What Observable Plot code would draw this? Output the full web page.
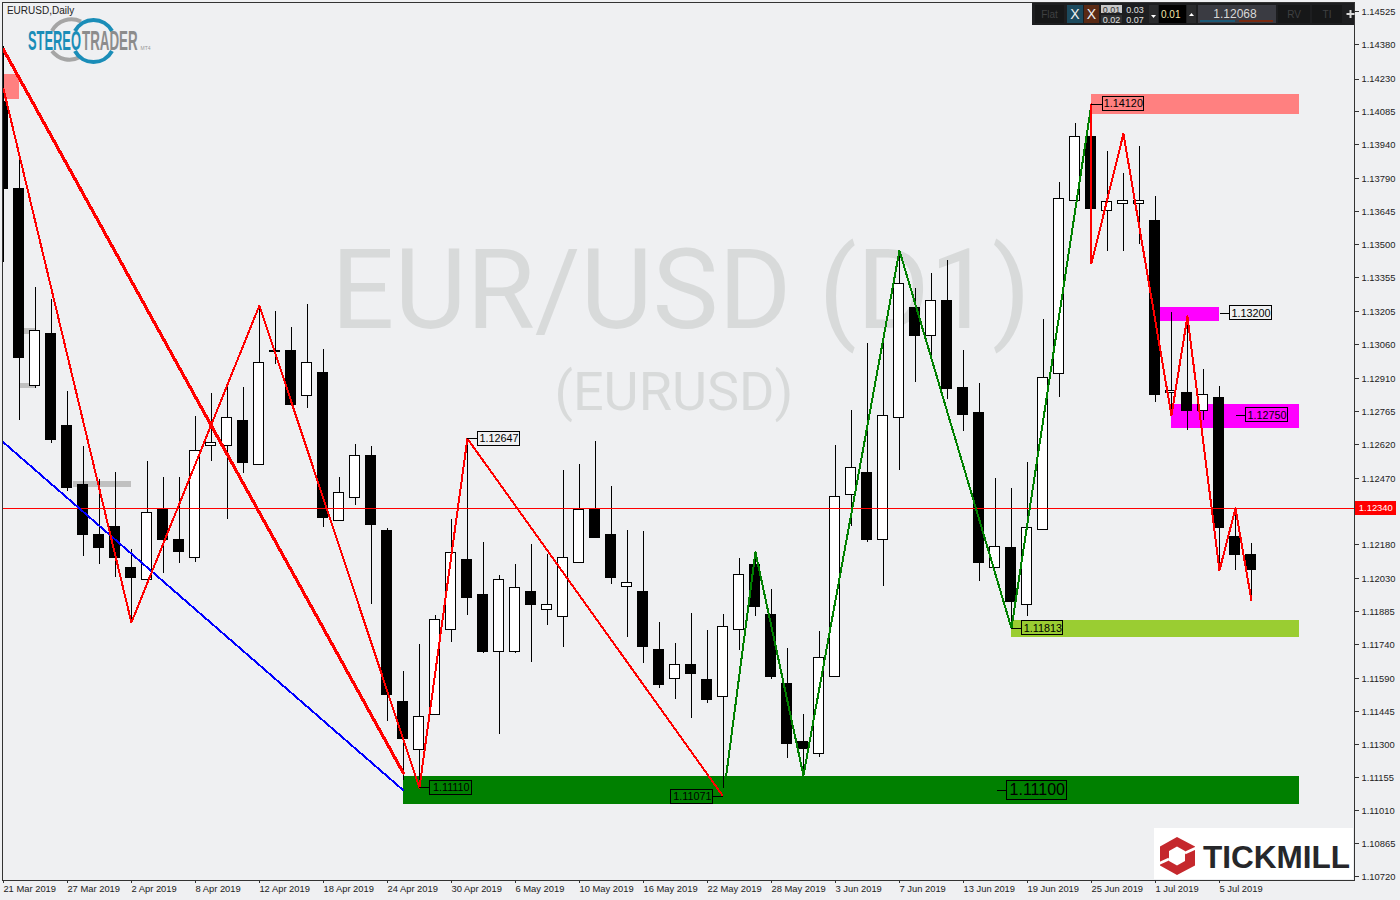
<!DOCTYPE html>
<html>
<head>
<meta charset="utf-8">
<script src="https://cdn.jsdelivr.net/npm/d3@7"></script>
<script src="https://cdn.jsdelivr.net/npm/@observablehq/plot@0.6"></script>
<style>
html,body{margin:0;padding:0;background:#eff0f2;overflow:hidden}
#wrap{position:relative;width:1400px;height:900px}
#wrap>svg.over{position:absolute;left:0;top:0;pointer-events:none}
</style>
</head>
<body>
<div id="wrap"></div>
<script>
const open = [1.14127,1.13748,1.12881,1.13106,1.12701,1.12445,1.12221,1.12260,1.12080,1.12023,1.12335,1.12203,1.12120,1.12613,1.12613,1.12727,1.12533,1.13033,1.13031,1.12837,1.12938,1.12283,1.12388,1.12569,1.12239,1.11490,1.11275,1.11433,1.11807,1.12115,1.11961,1.11710,1.11710,1.11970,1.11891,1.11864,1.12098,1.12335,1.12221,1.11996,1.11974,1.11719,1.11591,1.11653,1.11583,1.11508,1.11807,1.12089,1.11873,1.11569,1.11310,1.11261,1.11600,1.12397,1.12498,1.12203,1.12740,1.13220,1.13097,1.13251,1.12868,1.12758,1.12076,1.12164,1.11917,1.12243,1.12930,1.13691,1.13977,1.13647,1.13682,1.13678,1.13603,1.12846,1.12850,1.12771,1.12824,1.12216,1.12137];
const high = [1.14373,1.13880,1.13312,1.13260,1.12855,1.12613,1.12467,1.12498,1.12159,1.12547,1.12476,1.12476,1.12745,1.12846,1.12885,1.12872,1.13233,1.13207,1.13136,1.13238,1.13040,1.12476,1.12621,1.12613,1.12252,1.11622,1.11741,1.11869,1.12291,1.12647,1.12190,1.12045,1.12093,1.12181,1.12137,1.12507,1.12533,1.12635,1.12436,1.12243,1.12239,1.11838,1.11746,1.11878,1.11803,1.11873,1.12120,1.12150,1.11983,1.11723,1.11433,1.11798,1.12617,1.12771,1.13066,1.13066,1.13475,1.13308,1.13374,1.13431,1.13035,1.12890,1.12472,1.12428,1.12542,1.13172,1.13775,1.14034,1.14120,1.13911,1.13814,1.13933,1.13713,1.13202,1.13185,1.12951,1.12877,1.12340,1.12186];
const low = [1.13422,1.12727,1.12868,1.12626,1.12415,1.12128,1.12093,1.12036,1.11838,1.12023,1.12054,1.12098,1.12102,1.12547,1.12291,1.12494,1.12529,1.12974,1.12797,1.12780,1.12256,1.12283,1.12353,1.11917,1.11402,1.11143,1.11112,1.11433,1.11750,1.11869,1.11702,1.11345,1.11702,1.11662,1.11825,1.11728,1.12098,1.12212,1.12005,1.11772,1.11657,1.11547,1.11499,1.11415,1.11481,1.11103,1.11715,1.11864,1.11587,1.11239,1.11165,1.11244,1.11596,1.12260,1.12190,1.11996,1.12507,1.12894,1.13004,1.12819,1.12679,1.12018,1.12076,1.11811,1.11864,1.12243,1.12828,1.13691,1.13418,1.13471,1.13471,1.13502,1.12806,1.12749,1.12683,1.12727,1.12067,1.12067,1.11935];
const close = [1.13744,1.13004,1.13119,1.12643,1.12428,1.12225,1.12164,1.12120,1.12032,1.12322,1.12199,1.12150,1.12591,1.12630,1.12736,1.12538,1.12982,1.13029,1.12797,1.12982,1.12300,1.12410,1.12569,1.12269,1.11521,1.11323,1.11420,1.11851,1.12142,1.11944,1.11706,1.12027,1.11988,1.11913,1.11917,1.12120,1.12335,1.12212,1.12036,1.12010,1.11728,1.11561,1.11649,1.11613,1.11495,1.11816,1.12049,1.11904,1.11596,1.11301,1.11283,1.11680,1.12392,1.12516,1.12203,1.12749,1.13326,1.13101,1.13255,1.12864,1.12753,1.12102,1.12172,1.11930,1.12256,1.12912,1.13700,1.13977,1.13660,1.13687,1.13695,1.13695,1.12841,1.12859,1.12767,1.12841,1.12252,1.12133,1.12068];

const dateLabels = ["21 Mar 2019","27 Mar 2019","2 Apr 2019","8 Apr 2019","12 Apr 2019","18 Apr 2019","24 Apr 2019","30 Apr 2019","6 May 2019","10 May 2019","16 May 2019","22 May 2019","28 May 2019","3 Jun 2019","7 Jun 2019","13 Jun 2019","19 Jun 2019","25 Jun 2019","1 Jul 2019","5 Jul 2019"];
const priceTicks = [1.14525,1.14380,1.14230,1.14085,1.13940,1.13790,1.13645,1.13500,1.13355,1.13205,1.13060,1.12910,1.12765,1.12620,1.12470,1.12325,1.12180,1.12030,1.11885,1.11740,1.11590,1.11445,1.11300,1.11155,1.11010,1.10865,1.10720];

// zones: bar index from/to, price top/bottom
const pinkZoneX1 = [-0.06, 68], pinkZoneX2 = [1, 81], pinkZoneTop = [1.14250, 1.14162], pinkZoneBottom = [1.14140, 1.14074];
const magentaZoneX1 = [72, 73], magentaZoneX2 = [76, 81], magentaZoneTop = [1.13224, 1.12797], magentaZoneBottom = [1.13163, 1.12692];
const limeZone = {x1: 63, x2: 81, top: 1.11847, bottom: 1.11772};
const greenZone = {x1: 25, x2: 81, top: 1.11160, bottom: 1.11037};
const greyBarX1 = [1.35, 1, 4.4], greyBarX2 = [2, 2, 8], greyBarTop = [1.13132, 1.12890, 1.12458], greyBarBottom = [1.13106, 1.12868, 1.12432];

const currentPrice = 1.12340;

const thickRedX = [0, 25], thickRedY = [1.14360, 1.11175];
const blueX = [0, 25], blueY = [1.12631, 1.11099];
const redAX = [0, 8, 16, 26, 29, 45], redAY = [1.14188, 1.11838, 1.13233, 1.11110, 1.12647, 1.11071];
const greenX = [45, 47, 50, 56, 63, 68], greenY = [1.11071, 1.12147, 1.11165, 1.13475, 1.11813, 1.14120];
const redBX = [68, 68, 70, 73, 74, 76, 77, 78], redBY = [1.14120, 1.13418, 1.13989, 1.12749, 1.13185, 1.12067, 1.12340, 1.11935];

const labelValues = [1.14120, 1.13200, 1.12750, 1.12647, 1.11110, 1.11071, 1.11813];
const labelFrom = [68, 76.04, 77.04, 29, 26, 45, 63];
const labelX1 = [68.73, 76.69, 77.69, 29.69, 26.69, 41.74, 63.68];
const labelX2 = [71.26, 79.26, 80.26, 32.26, 29.29, 44.37, 66.24];
const bigLabel = {value: 1.11100, from: 62.1, x1: 62.73, x2: 66.5};

const toRows = (xs, ys) => xs.map((x, i) => ({x, y: ys[i]}));
const candles = d3.range(open.length).map(i => ({i, o: open[i], h: high[i], l: low[i], c: close[i], top: Math.max(open[i], close[i]), bottom: Math.min(open[i], close[i])}));
const labels = labelValues.map((v, i) => ({v, from: labelFrom[i], x1: labelX1[i], x2: labelX2[i]}));
const zones = (x1, x2, t, b) => x1.map((_, i) => ({x1: x1[i], x2: x2[i], t: t[i], b: b[i]}));
const fmt = d3.format(".5f");
const H = 0.31, BOX = 0.00031, BIG = 0.00042;
const crisp = {shapeRendering: "crispEdges"};
const mono = "Liberation Sans";

const zoneMark = (rows, fill) => Plot.rect(rows, {x1: "x1", x2: "x2", y1: "b", y2: "t", fill, ...crisp});

const chart = Plot.plot({
  width: 1400, height: 900,
  marginLeft: 2, marginTop: 2, marginRight: 46, marginBottom: 20.5,
  x: {type: "linear", domain: [-0.056, 84.44], axis: null},
  y: {type: "linear", domain: [1.107046, 1.145668], axis: null},
  style: {background: "#eff0f2", fontFamily: mono, fontSize: "9.4px", color: "#222"},
  marks: [
    Plot.text(["EUR/USD (D1)"], {x: 42.35, y: 1.13290, text: d => d, fontSize: 111, fontFamily: "Roboto", fill: "#d8dada", textAnchor: "middle"}),
    Plot.text(["(EURUSD)"], {x: 41.9, y: 1.12850, text: d => d, fontSize: 54, fontFamily: "Roboto", fill: "#d8dada", textAnchor: "middle"}),
    zoneMark(zones(greyBarX1, greyBarX2, greyBarTop, greyBarBottom), "#c0c0c0"),
    zoneMark(zones(pinkZoneX1, pinkZoneX2, pinkZoneTop, pinkZoneBottom), "#ff8080"),
    zoneMark(zones(magentaZoneX1, magentaZoneX2, magentaZoneTop, magentaZoneBottom), "#ff00ff"),
    zoneMark(zones([limeZone.x1], [limeZone.x2], [limeZone.top], [limeZone.bottom]), "#9acd32"),
    zoneMark(zones([greenZone.x1], [greenZone.x2], [greenZone.top], [greenZone.bottom]), "#008000"),

    Plot.ruleX(candles, {x: "i", y1: "l", y2: "h", stroke: "#000", strokeWidth: 1, clip: true, ...crisp}),
    Plot.rect(candles, {x1: d => d.i - H, x2: d => d.i + H, y1: "bottom", y2: "top", fill: d => d.c >= d.o ? "#ffffff" : "#000000", stroke: "#000", strokeWidth: 1, clip: true, ...crisp}),

    Plot.ruleY([currentPrice], {stroke: "#ff0000", strokeWidth: 1, ...crisp}),

    Plot.line(toRows(blueX, blueY), {x: "x", y: "y", stroke: "#0000ff", strokeWidth: 2, ...crisp}),
    Plot.line(toRows(thickRedX, thickRedY), {x: "x", y: "y", stroke: "#ff0000", strokeWidth: 3.2, ...crisp}),
    Plot.line(toRows(redAX, redAY), {x: "x", y: "y", stroke: "#ff0000", strokeWidth: 2, ...crisp}),
    Plot.line(toRows(greenX, greenY), {x: "x", y: "y", stroke: "#008000", strokeWidth: 2, ...crisp}),
    Plot.line(toRows(redBX, redBY), {x: "x", y: "y", stroke: "#ff0000", strokeWidth: 2, ...crisp}),

    // price labels with leader
    Plot.ruleY(labels, {y: "v", x1: "from", x2: d => d.from < d.x1 ? d.x1 : d.x2, stroke: "#000", strokeWidth: 1, ...crisp}),
    Plot.rect(labels, {x1: "x1", x2: "x2", y1: d => d.v - BOX, y2: d => d.v + BOX, fill: "none", stroke: "#000", strokeWidth: 1, ...crisp}),
    Plot.text(labels, {x: d => (d.x1 + d.x2) / 2, y: "v", text: d => fmt(d.v), fontSize: 10.8, fontFamily: mono, fill: "#000"}),
    Plot.ruleY([bigLabel], {y: "value", x1: "from", x2: "x1", stroke: "#000", strokeWidth: 1, ...crisp}),
    Plot.rect([bigLabel], {x1: "x1", x2: "x2", y1: d => d.value - BIG, y2: d => d.value + BIG, fill: "none", stroke: "#000", strokeWidth: 1, ...crisp}),
    Plot.text([bigLabel], {x: d => (d.x1 + d.x2) / 2, y: "value", text: d => fmt(d.value), fontSize: 16, fontFamily: mono, fill: "#000"}),

    Plot.text(["EURUSD,Daily"], {x: 0.22, y: 1.14529, text: d => d, fontSize: 10, fontFamily: mono, fill: "#222", textAnchor: "start"}),

    Plot.frame({stroke: "#333", strokeWidth: 1, ...crisp}),
    Plot.axisY({anchor: "right", ticks: priceTicks, tickFormat: fmt, tickSize: 4, tickPadding: 3, label: null, stroke: "#333", ...crisp}),
    Plot.axisX({anchor: "bottom", ticks: dateLabels.map((_, i) => i * 4), tickFormat: i => dateLabels[i / 4], tickSize: 3, tickPadding: 2, textAnchor: "start", label: null, stroke: "#333", ...crisp}),

    Plot.rect([currentPrice], {x1: 84.49, x2: 87.05, y1: d => d - 0.0003, y2: d => d + 0.0003, fill: "#ff0000", ...crisp}),
    Plot.text([currentPrice], {x: 85.77, y: d => d, text: d => fmt(d), fill: "#ffffff", fontSize: 9.4, fontFamily: mono})
  ]
});

const wrap = document.getElementById("wrap");
wrap.appendChild(chart);

const ns = "http://www.w3.org/2000/svg";
const over = document.createElementNS(ns, "svg");
over.setAttribute("class", "over");
over.setAttribute("width", 1400);
over.setAttribute("height", 900);
over.innerHTML = `
<g font-family="Liberation Sans">
  <!-- toolbar -->
  <rect x="1032" y="3" width="322" height="22" fill="#1d1e20"/>
  <rect x="1035" y="5" width="29" height="18" fill="#161718"/>
  <text x="1049.5" y="17.5" text-anchor="middle" font-size="10" fill="#3f4042">Flat</text>
  <rect x="1067" y="5" width="16" height="18" fill="#1c4a5e"/>
  <text x="1075" y="19" text-anchor="middle" font-size="14" fill="#f0f0f0">X</text>
  <rect x="1084" y="5" width="15" height="18" fill="#5a2a14"/>
  <text x="1091.5" y="19" text-anchor="middle" font-size="14" fill="#f0f0f0">X</text>
  <rect x="1101" y="5" width="21" height="8" fill="#c8c8c8"/>
  <text x="1111.5" y="12.5" text-anchor="middle" font-size="9" fill="#333">0.01</text>
  <text x="1135" y="12.5" text-anchor="middle" font-size="9" fill="#e0e0e0">0.03</text>
  <rect x="1101" y="15" width="21" height="8" fill="#2f3032"/>
  <text x="1111.5" y="22.5" text-anchor="middle" font-size="9" fill="#e0e0e0">0.02</text>
  <text x="1135" y="22.5" text-anchor="middle" font-size="9" fill="#e0e0e0">0.07</text>
  <rect x="1149" y="5" width="9" height="18" fill="#2a2b2d"/>
  <path d="M1151 15h5l-2.5 3z" fill="#fff"/>
  <rect x="1159" y="5" width="27" height="18" fill="#000"/>
  <text x="1161" y="18" font-size="10" fill="#f4e6a8">0.01</text>
  <rect x="1187" y="5" width="9" height="18" fill="#2a2b2d"/>
  <path d="M1189 16h5l-2.5-3z" fill="#fff"/>
  <rect x="1198" y="5" width="78" height="18" fill="#3a3b42"/>
  <text x="1235" y="18" text-anchor="middle" font-size="12" fill="#d8d8d8">1.12068</text>
  <rect x="1200" y="20" width="35" height="2" fill="#1c5a78"/>
  <rect x="1239" y="20" width="34" height="2" fill="#7a2a10"/>
  <rect x="1278" y="5" width="32" height="18" fill="#161718"/>
  <text x="1294" y="17.5" text-anchor="middle" font-size="10" fill="#3f4042">RV</text>
  <rect x="1312" y="5" width="30" height="18" fill="#161718"/>
  <text x="1327" y="17.5" text-anchor="middle" font-size="10" fill="#3f4042">TI</text>
  <path d="M1350.5 10v8M1346.5 14h8" stroke="#d8d8d8" stroke-width="2"/>

  <!-- StereoTrader logo -->
  <path d="M81 21.5A22 22 0 0 0 52 31M52 51A22 22 0 0 0 80 57" fill="none" stroke="#a5a5a5" stroke-width="4"/>
  <path d="M75 31A21 21 0 0 1 112 31M112 51A21 21 0 0 1 75 51" fill="none" stroke="#1a8db8" stroke-width="4"/>
  <text transform="translate(28,50) scale(0.477,1)" font-size="27" font-weight="bold" fill="#1a8db8">STEREO</text>
  <text transform="translate(82,50) scale(0.495,1)" font-size="27" font-weight="bold" fill="#8c8c8c">TRADER</text>
  <text x="140.5" y="50" font-size="5" fill="#999">MT4</text>

  <!-- Tickmill logo -->
  <rect x="1154" y="828" width="199" height="51" fill="#ffffff"/>
  <path fill-rule="evenodd" fill="#c5282d" d="M1177 837L1195 846.5V865.5L1177 875L1160 865.5V846.5ZM1177 846.5L1169 851V861L1177 865.5L1185 861V851Z"/>
  <path d="M1196 848L1185 853M1169 859L1158 864" stroke="#fff" stroke-width="2.5"/>
  <text x="1203" y="868" font-size="31" font-weight="bold" fill="#26272a" textLength="147" lengthAdjust="spacingAndGlyphs">TICKMILL</text>
</g>`;
wrap.appendChild(over);
</script>
</body>
</html>
